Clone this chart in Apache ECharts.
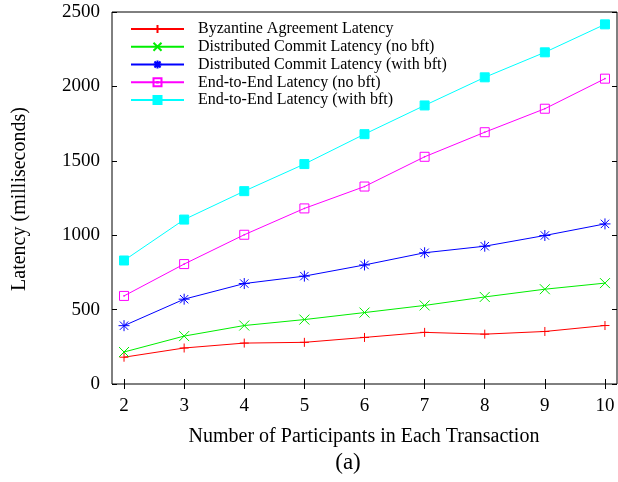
<!DOCTYPE html>
<html>
<head>
<meta charset="utf-8">
<script src="https://cdn.jsdelivr.net/npm/echarts@6/dist/echarts.min.js"></script>
<style>
  html, body { margin: 0; padding: 0; background: #fff; }
  #chart { width: 618px; height: 482px; }
</style>
</head>
<body>
<div id="chart"></div>
<script>
// Latency vs. number of participants per transaction
const participants = [2, 3, 4, 5, 6, 7, 8, 9, 10];
const byzantineAgreement = [180, 242, 275, 280, 313, 347, 335, 353, 393];
const commitNoBft = [215, 322, 393, 433, 480, 528, 585, 637, 678];
const commitWithBft = [392, 570, 675, 725, 800, 882, 926, 998, 1076];
const endToEndNoBft = [592, 806, 1003, 1180, 1327, 1527, 1692, 1850, 2052];
const endToEndWithBft = [830, 1105, 1296, 1478, 1679, 1872, 2061, 2229, 2417];

const FONT = '"Liberation Serif", "DejaVu Serif", serif';

// gnuplot-style point glyphs
const SYM_PLUS = 'path://M5,0 L5,10 M0,5 L10,5';
const SYM_CROSS = 'path://M0,0 L10,10 M10,0 L0,10';
const SYM_STAR = 'path://M5,0 L5,10 M0,5 L10,5 M1.2,1.2 L8.8,8.8 M8.8,1.2 L1.2,8.8';
const SYM_BOX = 'path://M0,0 L10,0 L10,10 L0,10 Z M4.6,4.6 L5.4,4.6 L5.4,5.4 L4.6,5.4 Z';
const SYM_BOXF = 'path://M0,0 L10,0 L10,10 L0,10 Z';

function pairs(values) {
  return participants.map((p, i) => [p, values[i]]);
}

function makeSeries(name, values, color, symbol, size, filled) {
  return {
    name: name,
    type: 'line',
    data: pairs(values),
    symbol: symbol,
    symbolSize: size,
    showAllSymbol: true,
    lineStyle: { color: color, width: 1 },
    itemStyle: {
      color: filled ? color : 'rgba(0,0,0,0)',
      borderColor: color,
      borderWidth: 1
    },
    emphasis: { disabled: true },
    animation: false
  };
}

const chart = echarts.init(document.getElementById('chart'), null, { renderer: 'canvas' });

const option = {
  backgroundColor: '#fff',
  animation: false,
  grid: {
    left: 112, top: 12, right: 1, bottom: 98,
    show: true, borderColor: '#000', borderWidth: 1, backgroundColor: 'transparent'
  },
  legend: {
    orient: 'vertical',
    left: 125,
    top: 15,
    itemWidth: 53,
    itemHeight: 10,
    itemGap: 0,
    selectedMode: false,
    textStyle: {
      fontFamily: FONT, fontSize: 16, color: '#000',
      lineHeight: 17.8, padding: [0, 0, 0, 9]
    },
    data: [
      'Byzantine Agreement Latency',
      'Distributed Commit Latency (no bft)',
      'Distributed Commit Latency (with bft)',
      'End-to-End Latency (no bft)',
      'End-to-End Latency (with bft)'
    ]
  },
  xAxis: [{
    type: 'value',
    min: 1.8, max: 10.2,
    axisLine: { show: false },
    splitLine: { show: false },
    axisTick: { show: true, inside: true, length: 5, customValues: participants, lineStyle: { color: '#000' } },
    axisLabel: { customValues: participants, fontFamily: FONT, fontSize: 19, color: '#000', margin: 13 }
  }, {
    type: 'value',
    position: 'top',
    min: 1.8, max: 10.2,
    axisLine: { show: false },
    splitLine: { show: false },
    axisTick: { show: true, inside: true, length: 5, customValues: participants, lineStyle: { color: '#000' } },
    axisLabel: { show: false }
  }],
  yAxis: [{
    type: 'value',
    min: 0, max: 2500, interval: 500,
    axisLine: { show: false },
    splitLine: { show: false },
    axisTick: { show: true, inside: true, length: 5, lineStyle: { color: '#000' } },
    axisLabel: { fontFamily: FONT, fontSize: 19, color: '#000', margin: 12, formatter: v => String(v) }
  }, {
    type: 'value',
    position: 'right',
    min: 0, max: 2500, interval: 500,
    axisLine: { show: false },
    splitLine: { show: false },
    axisTick: { show: true, inside: true, length: 5, lineStyle: { color: '#000' } },
    axisLabel: { show: false }
  }],
  graphic: [
    {
      type: 'text', x: 20, y: 199, rotation: Math.PI / 2,
      style: { text: 'Latency (milliseconds)', fontFamily: FONT, fontSize: 20, fill: '#000', align: 'center', verticalAlign: 'middle' }
    },
    {
      type: 'text', x: 364, y: 437,
      style: { text: 'Number of Participants in Each Transaction', fontFamily: FONT, fontSize: 20, fill: '#000', align: 'center', verticalAlign: 'middle' }
    },
    {
      type: 'text', x: 348, y: 463,
      style: { text: '(a)', fontFamily: FONT, fontSize: 23, fill: '#000', align: 'center', verticalAlign: 'middle' }
    }
  ],
  series: [
    makeSeries('Byzantine Agreement Latency', byzantineAgreement, '#ff0000', SYM_PLUS, 9, true),
    makeSeries('Distributed Commit Latency (no bft)', commitNoBft, '#00ee00', SYM_CROSS, 10, true),
    makeSeries('Distributed Commit Latency (with bft)', commitWithBft, '#0000ff', SYM_STAR, 11, true),
    makeSeries('End-to-End Latency (no bft)', endToEndNoBft, '#ff00ff', SYM_BOX, 9, false),
    makeSeries('End-to-End Latency (with bft)', endToEndWithBft, '#00ffff', SYM_BOXF, 9, true)
  ]
};

chart.setOption(option);
</script>
</body>
</html>
